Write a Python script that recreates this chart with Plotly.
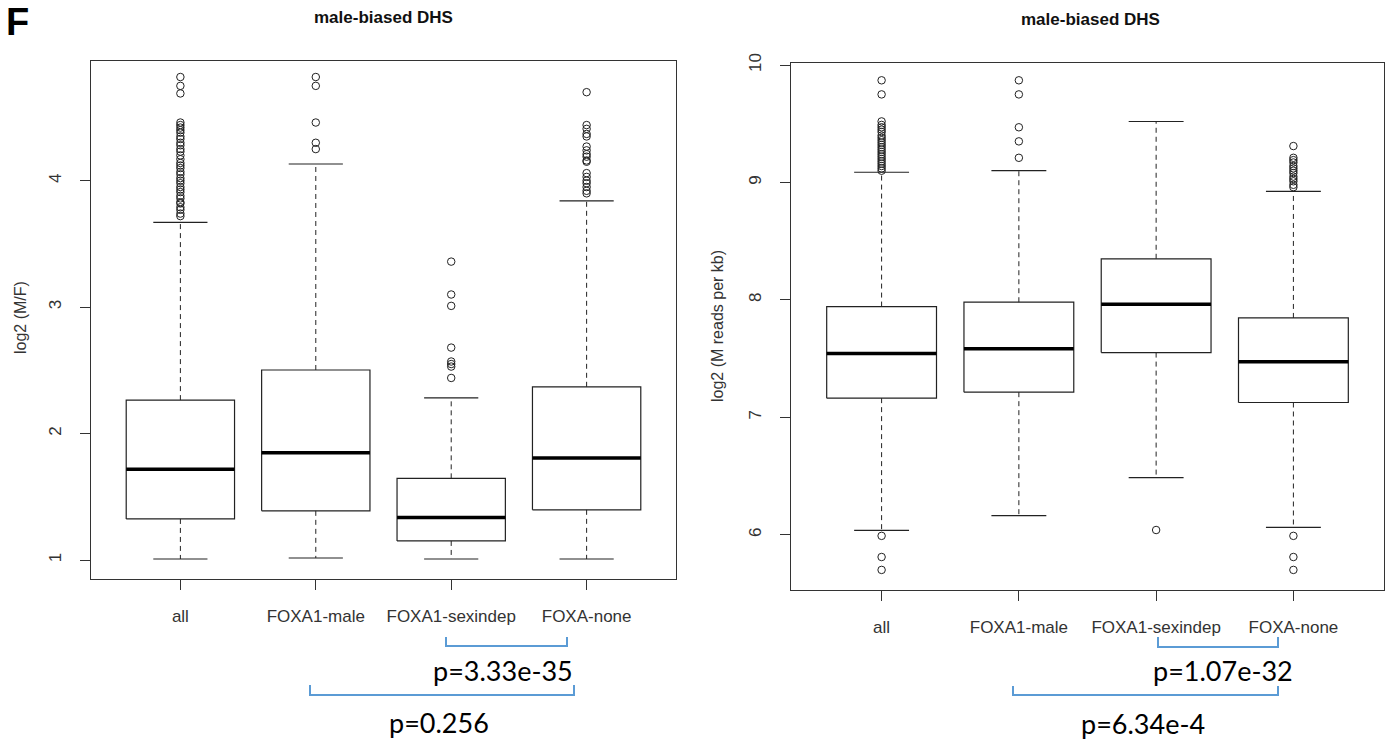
import plotly.graph_objects as go

# ---------------- data ----------------
categories = ["all", "FOXA1-male", "FOXA1-sexindep", "FOXA-none"]

# panel 1: log2 (M/F)
mf_lower = [1.008, 1.016, 1.008, 1.008]
mf_q1 = [1.325, 1.389, 1.151, 1.397]
mf_median = [1.717, 1.849, 1.336, 1.807]
mf_q3 = [2.265, 2.503, 1.646, 2.370]
mf_upper = [3.670, 4.132, 2.283, 3.840]
mf_outliers = [
    [3.72, 3.74, 3.77, 3.79, 3.82, 3.83, 3.86, 3.88, 3.91, 3.93, 3.95, 3.98,
     4.00, 4.02, 4.05, 4.07, 4.10, 4.12, 4.14, 4.17, 4.20, 4.23, 4.25, 4.28,
     4.30, 4.33, 4.35, 4.38, 4.40, 4.42, 4.44, 4.46, 4.69, 4.75, 4.82],
    [4.25, 4.30, 4.46, 4.75, 4.82],
    [2.44, 2.53, 2.55, 2.57, 2.68, 3.01, 3.10, 3.36],
    [3.90, 3.92, 3.95, 3.98, 4.00, 4.03, 4.06, 4.15, 4.16, 4.19, 4.21, 4.24,
     4.27, 4.35, 4.37, 4.41, 4.44, 4.70],
]

# panel 2: log2 (M reads per kb)
rd_lower = [6.037, 6.163, 6.486, 6.063]
rd_q1 = [7.163, 7.214, 7.551, 7.126]
rd_median = [7.543, 7.583, 7.963, 7.474]
rd_q3 = [7.943, 7.980, 8.350, 7.846]
rd_upper = [9.087, 9.100, 9.519, 8.924]
rd_outliers = [
    [5.70, 5.81, 5.99, 9.10, 9.12, 9.14, 9.16, 9.18, 9.20, 9.22, 9.24, 9.26,
     9.28, 9.30, 9.32, 9.34, 9.36, 9.38, 9.40, 9.43, 9.45, 9.47, 9.49, 9.52,
     9.75, 9.87],
    [9.21, 9.35, 9.47, 9.75, 9.87],
    [6.04],
    [5.70, 5.81, 5.99, 8.96, 8.98, 9.01, 9.03, 9.05, 9.08, 9.10, 9.12, 9.14,
     9.17, 9.19, 9.21, 9.31],
]

ink = "#222222"
W, H = 1387, 740

fig = go.Figure()


def add_boxes(xa, ya, lower, q1, med, q3, upper, outs):
    half, cap = 0.4, 0.2
    for i in range(len(categories)):
        c = i + 1
        common = dict(xaxis=xa, yaxis=ya, showlegend=False, hoverinfo="skip")
        # dashed whiskers
        fig.add_trace(go.Scatter(
            x=[c, c, None, c, c], y=[q3[i], upper[i], None, q1[i], lower[i]],
            mode="lines", line=dict(color=ink, width=1, dash="5px,4px"), **common))
        # staples
        fig.add_trace(go.Scatter(
            x=[c - cap, c + cap, None, c - cap, c + cap],
            y=[upper[i], upper[i], None, lower[i], lower[i]],
            mode="lines", line=dict(color=ink, width=1.2), **common))
        # box
        fig.add_trace(go.Scatter(
            x=[c - half, c + half, c + half, c - half, c - half],
            y=[q1[i], q1[i], q3[i], q3[i], q1[i]],
            mode="lines", line=dict(color=ink, width=1.2), **common))
        # median
        fig.add_trace(go.Scatter(
            x=[c - half, c + half], y=[med[i], med[i]],
            mode="lines", line=dict(color="#000000", width=3.5), **common))
        # outliers
        fig.add_trace(go.Scatter(
            x=[c] * len(outs[i]), y=outs[i], mode="markers",
            marker=dict(symbol="circle-open", size=7.5, color=ink,
                        line=dict(width=1, color=ink)), **common))


add_boxes("x", "y", mf_lower, mf_q1, mf_median, mf_q3, mf_upper, mf_outliers)
add_boxes("x2", "y2", rd_lower, rd_q1, rd_median, rd_q3, rd_upper, rd_outliers)

tick_font = dict(family="Liberation Sans, Arial, sans-serif", size=17, color="#333333")
axis_common = dict(
    showline=True, mirror=True, linecolor="#333333", linewidth=1.2,
    ticks="outside", ticklen=10, tickcolor="#333333", tickwidth=1.2,
    showgrid=False, zeroline=False, tickfont=tick_font, automargin=False,
)

fig.update_layout(
    width=W, height=H,
    margin=dict(l=0, r=0, t=0, b=0, pad=0, autoexpand=False),
    paper_bgcolor="white", plot_bgcolor="white",
    xaxis=dict(domain=[91 / W, 676 / W], range=[0.34, 4.66], anchor="y",
               tickvals=[1, 2, 3, 4], ticktext=categories,
               ticklabelstandoff=11, **axis_common),
    yaxis=dict(domain=[1 - 579 / H, 1 - 60.7 / H], range=[0.850, 4.949], anchor="x",
               tickvals=[1, 2, 3, 4], tickangle=-90,
               ticklabelstandoff=12, **axis_common),
    xaxis2=dict(domain=[791 / W, 1384 / W], range=[0.34, 4.66], anchor="y2",
                tickvals=[1, 2, 3, 4], ticktext=categories,
                ticklabelstandoff=11, **axis_common),
    yaxis2=dict(domain=[1 - 590 / H, 1 - 62.7 / H], range=[5.529, 10.02], anchor="x2",
                tickvals=[6, 7, 8, 9, 10], tickangle=-90,
                ticklabelstandoff=12, **axis_common),
)


def px(x, y):
    return x / W, 1 - y / H


annotations = []


def text(x, y, s, size, family, bold=False, angle=0, color="#000000"):
    xx, yy = px(x, y)
    annotations.append(dict(
        x=xx, y=yy, xref="paper", yref="paper", text=f"<b>{s}</b>" if bold else s,
        showarrow=False, textangle=angle, xanchor="center", yanchor="middle",
        font=dict(family=family, size=size, color=color)))


sans = "Liberation Sans, Arial, sans-serif"
text(17, 22, "F", 38, sans, bold=True)
text(383, 18, "male-biased DHS", 17, sans, bold=True, color="#111111")
text(1090, 20, "male-biased DHS", 17, sans, bold=True, color="#111111")
text(20, 318, "log2 (M/F)", 16, sans, angle=-90, color="#333333")
text(718, 326, "log2 (M reads per kb)", 16, sans, angle=-90, color="#333333")

pfont = "Lato, Carlito, Calibri, sans-serif"
text(503, 670, "p=3.33e-35", 27, pfont)
text(439, 722, "p=0.256", 27, pfont)
text(1223, 670, "p=1.07e-32", 27, pfont)
text(1143, 723, "p=6.34e-4", 27, pfont)
fig.update_layout(annotations=annotations)

# significance brackets
bracket_color = "#5b9bd5"
for x0, x1, ytop, ybot in [(446, 567, 637, 646), (310, 574, 685, 695),
                           (1158, 1278, 637, 647), (1013, 1278, 686, 695)]:
    fig.add_shape(type="path", xref="paper", yref="paper",
                  path=(f"M {x0 / W},{1 - ytop / H} L {x0 / W},{1 - ybot / H} "
                        f"L {x1 / W},{1 - ybot / H} L {x1 / W},{1 - ytop / H}"),
                  line=dict(color=bracket_color, width=2))

fig.write_html("out.html")
